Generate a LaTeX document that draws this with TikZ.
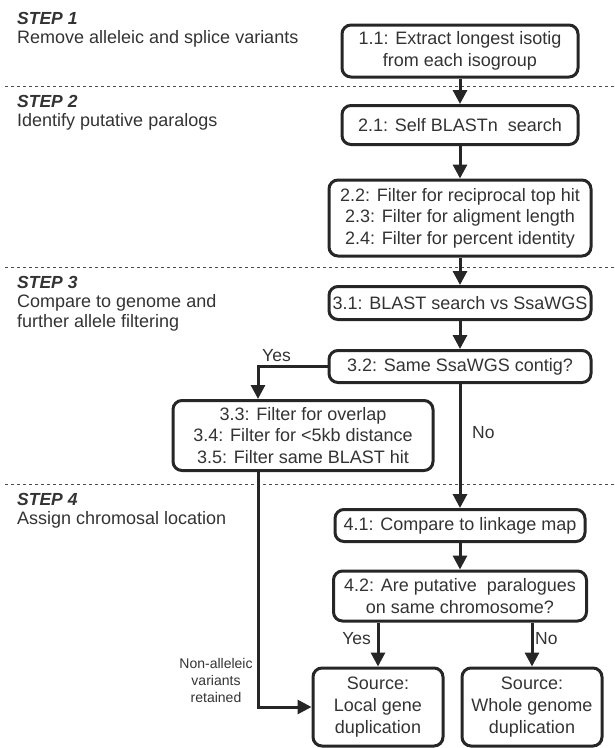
\documentclass[tikz,border=0pt]{standalone}
\usepackage{fontspec}
\setmainfont{Liberation Sans}
\usetikzlibrary{arrows.meta,calc}
\begin{document}
\begin{tikzpicture}[x=1pt,y=-1pt,
  box/.style={draw=black!85, line width=3pt, rounded corners=9pt, align=center, inner sep=0pt, text=black!80, font=\fontsize{18}{22}\selectfont},
  conn/.style={line width=3pt, draw=black!85, -{Triangle[length=14pt,width=14pt]}},
  sep/.style={draw=black!70, line width=1pt, dash pattern=on 3pt off 3pt},
  steplbl/.style={anchor=west, text=black!80, font=\fontsize{17.5}{21}\selectfont\bfseries\itshape, inner sep=0pt},
  desc/.style={anchor=west, align=left, text=black!80, font=\fontsize{18}{20}\selectfont, inner sep=0pt},
  yn/.style={text=black!80, font=\fontsize{17.5}{20}\selectfont, inner sep=0pt},
]
\useasboundingbox (0,0) rectangle (615,748);
% separators
\draw[sep] (5,86) -- (615,86);
\draw[sep] (5,267) -- (615,267);
\draw[sep] (5,484) -- (615,484);
% left labels
\node[steplbl] (s1) at (17,18) {STEP 1};
\node[desc] (d1) at (17,39) {Remove alleleic and splice variants};
\node[steplbl] (s2) at (17,101) {STEP 2};
\node[desc] (d2) at (17,122) {Identify putative paralogs};
\node[steplbl] (s3) at (17,282) {STEP 3};
\node[desc] (d3) at (17,313) {Compare to genome and\\further allele filtering};
\node[steplbl] (s4) at (17,499) {STEP 4};
\node[desc] (d4) at (17,520) {Assign chromosal location};
% boxes
\node[box, minimum width=236pt, minimum height=52pt] (b11) at (460,51) {1.1: Extract longest isotig\\from each isogroup};
\node[box, minimum width=236pt, minimum height=39pt] (b21) at (460,125) {2.1: Self BLASTn\ \ search};
\node[box, minimum width=262pt, minimum height=76pt, font=\fontsize{18}{21.5}\selectfont] (b22) at (460,218) {2.2: Filter for reciprocal top hit\\2.3: Filter for aligment length\\2.4: Filter for percent identity};
\node[box, minimum width=262pt, minimum height=33pt] (b31) at (460,303) {3.1: BLAST search vs SsaWGS};
\node[box, minimum width=262pt, minimum height=32pt] (b32) at (460,366.5) {3.2: Same SsaWGS contig?};
\node[box, minimum width=260pt, minimum height=70pt, font=\fontsize{18}{21.5}\selectfont] (b33) at (303,435.5) {3.3: Filter for overlap\\3.4: Filter for <5kb distance\\3.5: Filter same BLAST hit};
\node[box, minimum width=250pt, minimum height=32pt] (b41) at (460,525.5) {4.1: Compare to linkage map};
\node[box, minimum width=253pt, minimum height=50pt] (b42) at (460,596) {4.2: Are putative\ \ paralogues\\on same chromosome?};
\node[box, minimum width=130pt, minimum height=78pt] (loc) at (378,707) {Source:\\Local gene\\duplication};
\node[box, minimum width=140pt, minimum height=78pt] (whole) at (532,707) {Source:\\Whole genome\\duplication};
% connectors
\coordinate (yx) at (258,0);
\draw[conn] (b11) -- (b21);
\draw[conn] (b21) -- (b22);
\draw[conn] (b22) -- (b31);
\draw[conn] (b31) -- (b32);
\draw[conn] (b32.west) -| (yx |- b33.north);
\draw[conn] (b32) -- (b41);
\draw[conn] (b41) -- (b42);
\draw[conn] (loc.north |- b42.south) -- (loc.north);
\draw[conn] (whole.north |- b42.south) -- (whole.north);
\draw[conn] (yx |- b33.south) |- (loc.west);
% labels
\node[yn, anchor=west] (yes1) at (262,356) {Yes};
\node[yn, anchor=west] (no1) at (472,433) {No};
\node[yn, anchor=east] (yes2) at (371,639) {Yes};
\node[yn, anchor=west] (no2) at (535,639) {No};
\node[align=center, inner sep=0pt, text=black!80, font=\fontsize{14}{17}\selectfont] (na) at (216,680) {Non-alleleic\\variants\\retained};
\end{tikzpicture}
\end{document}
